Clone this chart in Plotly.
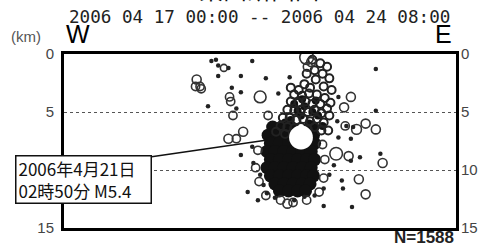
import plotly.graph_objects as go

# ---- data (km east of west edge, depth km) ----
mainshock_x = [20.9]
mainshock_depth = [7.2]
mainshock_mag = [5.4]

cluster_x = [18.4, 19.2, 20.0, 21.9,
             18.0, 18.8, 19.6, 20.3, 22.0,
             18.2, 19.0, 19.8, 20.6, 21.4, 22.1,
             17.9, 18.6, 19.4, 20.2, 21.0, 21.8,
             18.2, 19.0, 19.8, 20.6, 21.4, 22.1,
             17.9, 18.6, 19.4, 20.2, 21.0, 21.8,
             18.2, 19.0, 19.8, 20.6, 21.4, 22.0,
             18.6, 19.4, 20.2, 21.0, 21.7,
             19.0, 19.8, 20.6, 21.3]
cluster_depth = [6.3, 6.3, 6.3, 6.3,
                 7.0, 7.0, 7.0, 7.0, 7.0,
                 7.7, 7.7, 7.7, 7.7, 7.7, 7.7,
                 8.4, 8.4, 8.4, 8.4, 8.4, 8.4,
                 9.1, 9.1, 9.1, 9.1, 9.1, 9.1,
                 9.8, 9.8, 9.8, 9.8, 9.8, 9.8,
                 10.5, 10.5, 10.5, 10.5, 10.5, 10.5,
                 11.2, 11.2, 11.2, 11.2, 11.2,
                 11.8, 11.8, 11.8, 11.8]

core_x = [20.3, 21.2, 21.9, 20.9, 20.0, 21.6, 22.4, 20.5, 19.5, 22.8,
          21.0, 22.2, 20.6]
core_depth = [4.3, 4.5, 5.0, 5.3, 5.7, 6.0, 5.3, 6.6, 5.9, 6.2,
              3.9, 4.0, 4.9]

column_x = [21.9, 22.6, 23.2, 22.1, 21.4, 22.8, 23.4, 22.2, 21.2, 21.7,
            22.9, 23.6, 20.7, 20.0, 20.3, 21.0, 21.6, 22.3, 23.0, 23.5,
            20.0, 20.7, 21.3, 21.9, 22.6, 23.2, 19.7, 20.3, 20.9, 21.5,
            22.1, 22.7, 23.4, 19.3, 19.9, 20.5, 21.1, 21.7, 22.3, 22.9,
            19.1, 19.7, 20.3, 20.9, 21.5, 22.1, 22.7, 23.3, 18.7, 19.5]
column_depth = [0.5, 0.8, 1.1, 1.4, 1.7, 1.7, 2.1, 2.2, 2.6, 2.9,
                2.8, 3.1, 3.1, 2.9, 3.5, 3.6, 3.4, 3.5, 3.8, 4.2,
                4.1, 4.2, 4.1, 4.3, 4.3, 4.7, 4.8, 4.9, 4.8, 5.0,
                4.8, 5.1, 5.3, 5.5, 5.5, 5.7, 5.6, 5.8, 5.6, 5.9,
                6.2, 6.3, 6.4, 6.3, 6.5, 6.3, 6.6, 6.6, 6.7, 6.9]

circle_x = [21.4, 21.8, 21.5, 11.7, 12.0, 11.6, 12.1, 14.6, 14.7, 17.3,
            14.9, 18.0, 15.8, 14.5, 15.2, 25.3, 24.7, 26.6, 27.5, 25.8,
            24.0, 25.1, 28.1, 26.0, 26.6, 19.7, 24.8, 14.1,
            17.1, 16.9, 17.2, 17.8, 19.1, 20.2, 21.4, 22.5, 22.9, 23.0, 22.8]
circle_depth = [0.3, 0.7, 1.1, 2.2, 2.8, 2.8, 3.0, 3.7, 4.1, 3.7,
                5.3, 5.3, 6.7, 7.3, 7.3, 3.7, 4.6, 6.0, 6.5, 6.5,
                8.6, 8.8, 9.4, 10.8, 12.1, 12.9, 6.2, 1.2,
                8.3, 9.8, 11.0, 12.2, 12.6, 12.8, 12.6, 11.9, 10.7, 9.1, 7.8]
circle_mag = [2.9, 1.7, 1.7, 1.7, 1.5, 1.5, 1.5, 1.5, 1.5, 2.4,
              1.5, 1.5, 1.7, 1.7, 1.5, 1.7, 1.7, 1.7, 1.7, 1.9,
              2.6, 1.7, 1.7, 1.7, 1.7, 1.7, 1.5, 1.2,
              1.5, 1.5, 1.5, 1.5, 1.5, 1.5, 1.5, 1.5, 1.5, 1.5, 1.5]

dot_x = [13.0, 13.4, 13.6, 14.5, 13.6, 16.6, 15.6, 17.8, 14.8, 15.6,
         12.7, 15.2, 19.9, 18.9, 24.2, 25.5, 24.9, 24.1, 27.5, 27.5,
         24.2, 25.3, 27.9, 25.3, 26.1, 24.5, 24.6, 25.4, 15.6, 16.2,
         17.1, 22.9, 21.2, 16.6, 16.7, 23.8, 23.4, 22.9, 17.3, 17.6,
         17.9, 18.6, 20.3, 22.1]
dot_depth = [0.6, 0.5, 1.0, 1.2, 1.9, 0.6, 1.9, 2.1, 2.9, 3.3,
             4.5, 4.7, 2.0, 3.4, 3.7, 6.3, 6.2, 5.8, 1.3, 4.9,
             7.2, 7.3, 8.6, 9.2, 8.9, 10.9, 11.6, 13.2, 8.7, 11.9,
             12.6, 13.1, 12.3, 8.0, 9.4, 9.6, 10.4, 11.6, 10.4, 11.3,
             12.0, 12.4, 12.6, 12.2]

depth_ticks = [0, 5, 10, 15]
title_text = "2006 04 17 00:00 -- 2006 04 24 08:00"
event_label = "2006年4月21日<br>02時50分 M5.4"
count_label = "N=1588"


def mag_size(m):
    return [2.2 + 4.0 * v for v in m]


fig = go.Figure()
fig.add_trace(go.Scatter(x=cluster_x, y=cluster_depth, mode="markers",
                         marker=dict(symbol="circle", size=13, color="#111", opacity=1),
                         hoverinfo="skip"))
fig.add_trace(go.Scatter(x=core_x, y=core_depth, mode="markers",
                         marker=dict(symbol="circle", size=8, color="#111", opacity=1),
                         hoverinfo="skip"))
fig.add_trace(go.Scatter(x=column_x, y=column_depth, mode="markers",
                         marker=dict(symbol="circle-open", size=8, color="#222", opacity=1,
                                     line=dict(width=2, color="#222")),
                         hoverinfo="skip"))
fig.add_trace(go.Scatter(x=circle_x, y=circle_depth, mode="markers",
                         marker=dict(symbol="circle-open", size=mag_size(circle_mag),
                                     color="#333", opacity=1,
                                     line=dict(width=1.6, color="#333")),
                         hoverinfo="skip"))
fig.add_trace(go.Scatter(x=dot_x, y=dot_depth, mode="markers",
                         marker=dict(symbol="circle", size=4.5, color="#222", opacity=1),
                         hoverinfo="skip"))
fig.add_trace(go.Scatter(x=mainshock_x, y=mainshock_depth, mode="markers",
                         marker=dict(symbol="circle", size=mag_size(mainshock_mag),
                                     color="white", opacity=1, line=dict(width=0)),
                         hoverinfo="skip"))
fig.add_trace(go.Scatter(x=[None], y=[None], yaxis="y2", hoverinfo="skip"))

fig.update_layout(
    width=490, height=250,
    margin=dict(l=64, r=25, t=54, b=22),
    paper_bgcolor="white", plot_bgcolor="white",
    showlegend=False,
    font=dict(family="Liberation Sans, Arial, sans-serif", color="#222"),
    xaxis=dict(range=[0, 34.57], showticklabels=False, ticks="", showgrid=False,
               zeroline=False, showline=True, mirror=True, linecolor="black",
               linewidth=3),
    yaxis=dict(range=[15, 0], tickvals=depth_ticks, ticks="", showgrid=True,
               gridcolor="#555", griddash="dot", gridwidth=1, zeroline=False,
               showline=True, mirror=True, linecolor="black", linewidth=3,
               tickfont=dict(size=15, color="#444"), ticklabelstandoff=4),
    yaxis2=dict(range=[15, 0], tickvals=depth_ticks, overlaying="y", side="right",
                matches="y", ticks="", showgrid=False, zeroline=False,
                tickfont=dict(size=15, color="#444"), ticklabelstandoff=4),
)

fig.add_annotation(xref="paper", yref="paper", x=0.4975, xanchor="center", y=1.262,
                   yanchor="bottom", text="東西断面図", showarrow=False,
                   font=dict(size=24, family="Noto Sans CJK JP", color="#111"))
fig.add_annotation(xref="paper", yref="paper", x=0.4975, xanchor="center", y=1.212,
                   yanchor="middle", text=title_text, showarrow=False,
                   font=dict(size=17.6, family="DejaVu Sans Mono", color="#222"))
fig.add_annotation(xref="paper", yref="paper", x=-0.097, xanchor="center", y=1.1,
                   yanchor="middle", text="(km)", showarrow=False,
                   font=dict(size=15, color="#555"))
fig.add_annotation(xref="paper", yref="paper", x=0.036, xanchor="center", y=1.115,
                   yanchor="middle", text="W", showarrow=False,
                   font=dict(size=25, color="#000"))
fig.add_annotation(xref="paper", yref="paper", x=0.968, xanchor="center", y=1.115,
                   yanchor="middle", text="E", showarrow=False,
                   font=dict(size=25, color="#000"))
fig.add_annotation(xref="paper", yref="paper", x=1.0, y=-0.055, xanchor="right",
                   yanchor="middle", text="<b>" + count_label + "</b>", showarrow=False,
                   font=dict(size=17, color="#222"))
fig.add_shape(type="line", xref="paper", yref="paper", x0=0.219, y0=0.408,
              x1=0.519, y1=0.506, line=dict(color="#111", width=1.6), layer="above")
fig.add_annotation(xref="paper", yref="paper", x=0.051, y=0.276, xanchor="center",
                   yanchor="middle", text=event_label, showarrow=False, align="left",
                   width=130, height=42, borderpad=2, bordercolor="#111",
                   borderwidth=1.5, bgcolor="white",
                   font=dict(size=17, family="Noto Sans CJK JP", color="#111"))

fig.write_html("out.html", config={"displayModeBar": False},
               post_script="document.body.style.margin='0';")
